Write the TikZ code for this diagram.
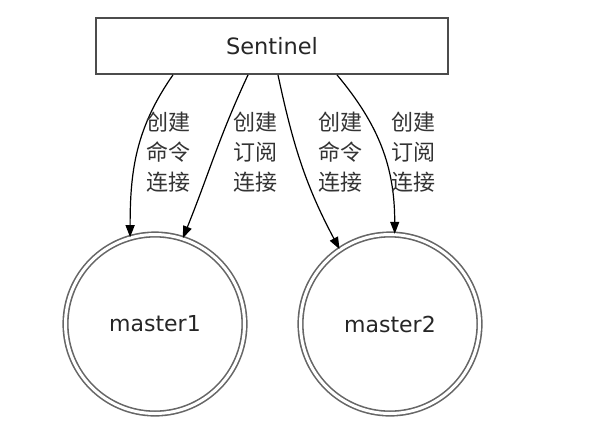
\documentclass[tikz,border=0pt]{standalone}
\usepackage{fontspec}
\setmainfont{DejaVu Sans}
\newfontfamily\cjk{Noto Sans CJK SC}
\usetikzlibrary{arrows.meta}
\begin{document}
\begin{tikzpicture}[x=1pt,y=-1pt,
  box/.style={draw=black!70,line width=1.8pt,minimum width=352pt,minimum height=56pt,inner sep=0pt,
    font=\fontsize{22.5}{26}\selectfont,text=black!85},
  master/.style={circle,draw=black!60,double=white,double distance=3pt,line width=1.6pt,
    minimum size=179pt,inner sep=0pt,font=\fontsize{22}{26}\selectfont,text=black!85},
  lbl/.style={align=center,inner sep=0pt,font=\cjk\fontsize{22}{30}\selectfont,text=black!80},
  conn/.style={line width=1.2pt,-{Triangle[length=12pt,width=9pt]}}]
  \useasboundingbox (0,0) rectangle (612,432);

  \node[box] (sentinel) at (272,46) {Sentinel};
  \node[master] (m1) at (155,324) {master1};
  \node[master] (m2) at (390,324) {master2};

  \coordinate (s1) at ([xshift=-99pt]sentinel.south);
  \coordinate (s2) at ([xshift=-24pt]sentinel.south);
  \coordinate (s3) at ([xshift=6pt]sentinel.south);
  \coordinate (s4) at ([xshift=65pt]sentinel.south);

  \draw[conn] (s1) to[out=235,in=90] (m1.106);
  \draw[conn] (s2) to[out=245,in=68] (m1.72);
  \draw[conn] (s3) to[out=282,in=118] (m2.124);
  \draw[conn] (s4) to[out=-50,in=90] (m2.87);

  \node[lbl] (l1) at (168,152) {创建\\命令\\连接};
  \node[lbl] (l2) at (255,152) {创建\\订阅\\连接};
  \node[lbl] (l3) at (340,152) {创建\\命令\\连接};
  \node[lbl] (l4) at (413,152) {创建\\订阅\\连接};
\end{tikzpicture}
\end{document}
